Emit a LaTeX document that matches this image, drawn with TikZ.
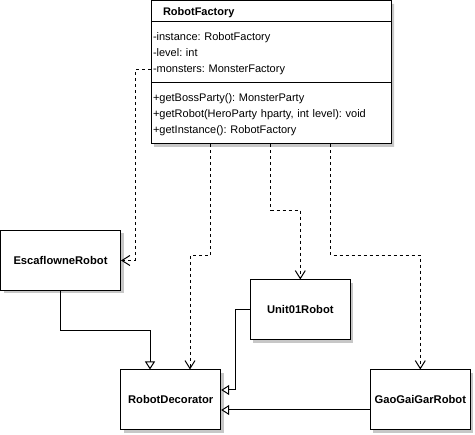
\documentclass[tikz,border=0pt]{standalone}
\usepackage{fontspec}
\setmainfont{Liberation Sans}
\usetikzlibrary{shapes,shadows,arrows.meta}
\frenchspacing
\newcommand{\umlrow}{\rule[-4pt]{0pt}{16pt}}

\begin{document}
\begin{tikzpicture}[x=1pt,y=-1pt,line width=1pt,
  every node/.style={font=\fontsize{11}{16}\selectfont},
  classbox/.style={draw, fill=white, drop shadow={shadow xshift=3pt, shadow yshift=-3pt, fill=black!22, opacity=1}},
  robotbox/.style={classbox, minimum width=100pt, minimum height=60pt, inner sep=0pt, font=\fontsize{11.2}{16}\selectfont\bfseries},
  dep/.style={dash pattern=on 3pt off 3pt, -{Straight Barb[length=8pt,width=10pt]}},
  gen/.style={-{Triangle[open,length=8pt,width=10pt,fill=white]}}]
\useasboundingbox (0,0) rectangle (475,435);
\node[classbox, rectangle split, rectangle split parts=3, text width=236pt, align=left, inner xsep=2pt, inner ysep=6pt, anchor=north west] (factory) at (150.5,0.5)
  {\hspace*{10pt}\raisebox{0pt}[8pt][0pt]{\textbf{RobotFactory}}
   \nodepart{second}\umlrow-instance: RobotFactory\\\umlrow-level: int\\\umlrow-monsters: MonsterFactory
   \nodepart{third}\umlrow+getBossParty(): MonsterParty\\\umlrow+getRobot(HeroParty hparty, int level): void\\\umlrow+getInstance(): RobotFactory};
\node[robotbox, minimum width=120pt] (escaflowne) at (60.5,260.5) {EscaflowneRobot};
\node[robotbox] (decorator) at (170.7,400) {RobotDecorator};
\node[robotbox] (unit) at (300.3,310) {Unit01Robot};
\node[robotbox] (gaogaigar) at (420.3,400) {GaoGaiGarRobot};
% dependencies
\draw[dep] (factory.west |- 0,70) -- (135,70) |- (escaflowne.east);
\draw[dep] ([xshift=60pt]factory.south west) |- (190,255.5) -- ([xshift=19.3pt]decorator.north);
\draw[dep] ([xshift=120pt]factory.south west) |- (300.3,210.5) -- (unit.north);
\draw[dep] ([xshift=180pt]factory.south west) |- (420.3,255.5) -- (gaogaigar.north);
% generalizations
\draw[gen] (escaflowne.south) |- (150,330.5) -- ([xshift=-20.7pt]decorator.north);
\draw[gen] (unit.west) -- (235.7,310) |- ([yshift=10pt]decorator.east);
\draw[gen] ([yshift=-10pt]gaogaigar.west) -- ([yshift=-10pt]decorator.east);
\end{tikzpicture}
\end{document}
